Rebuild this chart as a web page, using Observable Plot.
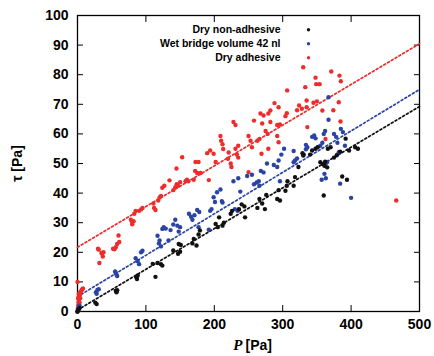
<!DOCTYPE html>
<html><head><meta charset="utf-8">
<script src="https://cdn.jsdelivr.net/npm/d3@7"></script>
<script src="https://cdn.jsdelivr.net/npm/@observablehq/plot@0.6"></script>
<style>
html,body{margin:0;padding:0;background:#fff;}
#chart{width:434px;height:356px;}
</style></head><body><div id="chart"></div>
<script>
const seriesNames = ["Dry non-adhesive", "Wet bridge volume 42 nl", "Dry adhesive"];
const seriesColors = ["#111111", "#2a44a4", "#ee2c2c"];
const xTicks = [0, 100, 200, 300, 400, 500];
const yTicks = [0, 10, 20, 30, 40, 50, 60, 70, 80, 90, 100];
const xLabelSymbol = "P";
const xLabelUnit = "[Pa]";
const yLabel = "τ [Pa]";
// fitted dotted lines: tau = intercept + slope * P
const fitIntercept = [0.5, 5, 21.7];
const fitSlope = [0.1375, 0.14, 0.1375];

// [P, tau]
const dryNonAdhesive = [
 [0,0],[1,0.5],[3,1.2],[26,3],[28,2.5],[56,7],[57,6.5],[58,7.2],[86,11.6],[88,12.2],[87,11],
 [114,11.7],[110,16.1],[117,16.4],[122,16],[124,15.5],[140,20.6],[147,19.5],[150,20.2],[151,22.5],
 [148,22.8],[168,23],[170,24.5],[174,22.3],[177,26],[179,27.4],[202,29.6],[205,28.5],[207,31.8],
 [212,29],[214,30],[224,33],[226,34],[236,34.5],[240,36.2],[245,31.8],[244,35.5],[263,35],[266,38],
 [270,36.5],[274,34.6],[276,39.4],[292,38],[294,41],[296,37.5],[304,40.8],[306,42.5],[307,44],
 [316,42.5],[318,45.4],[323,48.8],[330,52.7],[329,53.5],[340,53],[343,54.4],[348,55],[351,55.5],
 [355,50.4],[359,49.8],[361,49.2],[360,39.2],[362,50.6],[365,48.7],[366,55],[370,55.5],[375,52],
 [379,52.8],[384,54],[387,45.6],[394,44.5],[392,58.4],[397,54.4],[406,55.5],[410,55]
];
const wetBridge = [
 [0,0],[1,1],[2,0.5],[3,2],[27,6.5],[28,6],[29,7.3],[31,7.5],[55,13.5],[56,13],[57,12.5],[58,12],
 [85,18],[88,17],[90,16],[93,20],[95,20.5],[117,25.6],[119,23],[120,24],[122,22],[124,27.9],[126,28.5],
 [129,28],[133,24],[136,27.5],[140,29.4],[146,29],[143,31],[148,27],[150,28.5],[163,33],[166,32],
 [168,31],[171,32.5],[175,34.3],[178,33.6],[177,28.5],[192,27.6],[194,34],[196,34.6],[199,38.6],
 [201,37],[204,40.3],[209,41.2],[211,37.3],[212,36.8],[228,44],[230,34.6],[234,34],[236,34.6],
 [235,45],[238,40.5],[248,45.8],[255,46.2],[258,43],[262,43.6],[265,44],[266,42.5],[268,47.5],
 [272,47],[277,50],[287,49.5],[292,48.8],[294,51],[296,44],[298,53],[302,55],[316,50.4],[318,51],
 [321,51.7],[316,54.2],[331,53],[334,54.8],[336,55.5],[334,56.3],[343,59],[346,59.5],[348,58.5],
 [355,56],[358,57],[360,60],[362,61],[357,44.5],[361,46.5],[363,45],[363,50],[365,50.5],[367,64.8],
 [367,72.4],[375,60],[378,59],[380,57],[382,53.8],[385,61.7],[388,60.6],[384,43.2],[391,56],[400,38.4]
];
const dryAdhesive = [
 [0,0],[0.5,1],[1,2],[1.5,3],[2,4],[2.5,5],[3,5.5],[3.5,6],[4,6.5],[5,6.8],[6,7.2],[7,7.5],[8,7.8],
 [2,6],[1,4.5],[3,3],[4,4.5],[0,10],[30,21.2],[31,20.9],[32,16.4],[35,19.8],[36,19.5],[37,18.6],
 [38,20],[52,21.2],[54,21],[56,21.7],[58,22.8],[60,25.7],[61,23.5],[78,31],[80,30],[82,30.5],
 [83,33],[85,34],[80,29.5],[90,34],[93,34.5],[95,35],[111,36.5],[112,35],[114,34.3],[118,37.5],
 [120,38.5],[122,39],[124,41.8],[127,42.5],[134.5,44.3],[140,41],[143,42],[145,43],[147,42.5],
 [150,43.7],[144.7,48.3],[153,52.1],[158,44],[160,44.5],[162,44],[170,44.5],[172,47.5],[175,46.8],
 [172.5,50.5],[177,50.5],[180,46.8],[189.6,53.5],[192,44.4],[194,54.4],[199,53.3],[202,50.5],
 [209,59.3],[210,57.7],[212,56.5],[213,54.9],[220,51.6],[224,50],[225,48.8],[221,53.7],[228,64],
 [231,63],[231,55],[235,56],[235,52],[233,53],[250,59.3],[253,57.7],[250,47.1],[255,55.5],[258,64.5],
 [263,57.7],[266,58.3],[269,53.3],[267.5,66.9],[270,63.5],[275,61],[278,60],[279,66.9],[279,55],
 [282,64],[272,66.2],[282,67.9],[288,70.4],[294,69],[292,59.3],[294,57.2],[292,63],[296,63.2],
 [304,66],[306,67],[306.5,74.7],[321,68],[324,69.6],[328,68.5],[330,82.5],[333,75.8],[335,71.3],
 [336,62.3],[335,69],[345,70.5],[350,71],[349,76.8],[354,76.8],[348,79],[358,67.9],[362.6,58.3],
 [371,81.1],[374,68],[382,70.7],[383,79.7],[385,77.8],[384.5,64.2],[466,37.5]
];

const seriesData = [dryNonAdhesive, wetBridge, dryAdhesive];
const points = seriesData.flatMap((arr, i) => arr.map(([P, tau]) => ({P, tau, s: i})));
const xDomain = [xTicks[0], xTicks[xTicks.length - 1]];
const fitLines = seriesNames.map((n, i) => xDomain.map(P => ({P, tau: fitIntercept[i] + fitSlope[i] * P, s: i})));

const bold = {fontWeight: "bold", fontSize: 14, fill: "#000"};
const marks = [
  Plot.frame({stroke: "#000", strokeWidth: 1.3}),
  Plot.axisX(xTicks, {anchor: "bottom", tickSize: -6, tickPadding: 14, label: null, ...bold}),
  Plot.axisX(xTicks, {anchor: "top", tickSize: -6, tickFormat: () => "", label: null}),
  Plot.axisY(yTicks, {anchor: "left", tickSize: -6, tickPadding: 15, label: null, ...bold}),
  Plot.axisY(yTicks, {anchor: "right", tickSize: -6, tickFormat: () => "", label: null}),
];
fitLines.forEach((ln, i) => {
  marks.push(Plot.line(ln, {x: "P", y: "tau", stroke: seriesColors[i], strokeWidth: 1.7, strokeDasharray: "2,2.4"}));
});
[2, 1, 0].forEach(i => {
  marks.push(Plot.dot(points.filter(d => d.s === i), {x: "P", y: "tau", r: 2.2, fill: seriesColors[i], stroke: null}));
});
seriesNames.forEach((name, i) => {
  marks.push(Plot.text([name], {text: d => d, frameAnchor: "top-left", dx: 203, dy: 14.3 + 14 * i, textAnchor: "end", lineAnchor: "middle", fontSize: 10.5, fontWeight: "bold", fill: "#000"}));
  marks.push(Plot.dot([name], {frameAnchor: "top-left", dx: 231, dy: 14.3 + 14 * i, r: 1.7, fill: seriesColors[i], stroke: null}));
});
marks.push(Plot.text([xLabelSymbol], {text: d => d, frameAnchor: "bottom", dx: -6, dy: 34, textAnchor: "end", lineAnchor: "middle", fontSize: 15, fontWeight: "bold", fontStyle: "italic", fontFamily: "'Liberation Serif', serif", fill: "#000"}));
marks.push(Plot.text([xLabelUnit], {text: d => d, frameAnchor: "bottom", dx: -3, dy: 34, textAnchor: "start", lineAnchor: "middle", fontSize: 14, fontWeight: "bold", fill: "#000"}));
marks.push(Plot.text([yLabel], {text: d => d, frameAnchor: "left", dx: -60, rotate: -90, textAnchor: "middle", lineAnchor: "middle", fontSize: 14, fontWeight: "bold", fill: "#000"}));

const chart = Plot.plot({
  width: 434, height: 356,
  marginLeft: 77, marginRight: 15, marginTop: 15, marginBottom: 45,
  x: {domain: xDomain},
  y: {domain: [yTicks[0], yTicks[yTicks.length - 1]]},
  style: {fontFamily: "'Liberation Sans', Arial, sans-serif", background: "#fff", overflow: "visible"},
  marks
});
document.getElementById("chart").appendChild(chart);
</script></body></html>
